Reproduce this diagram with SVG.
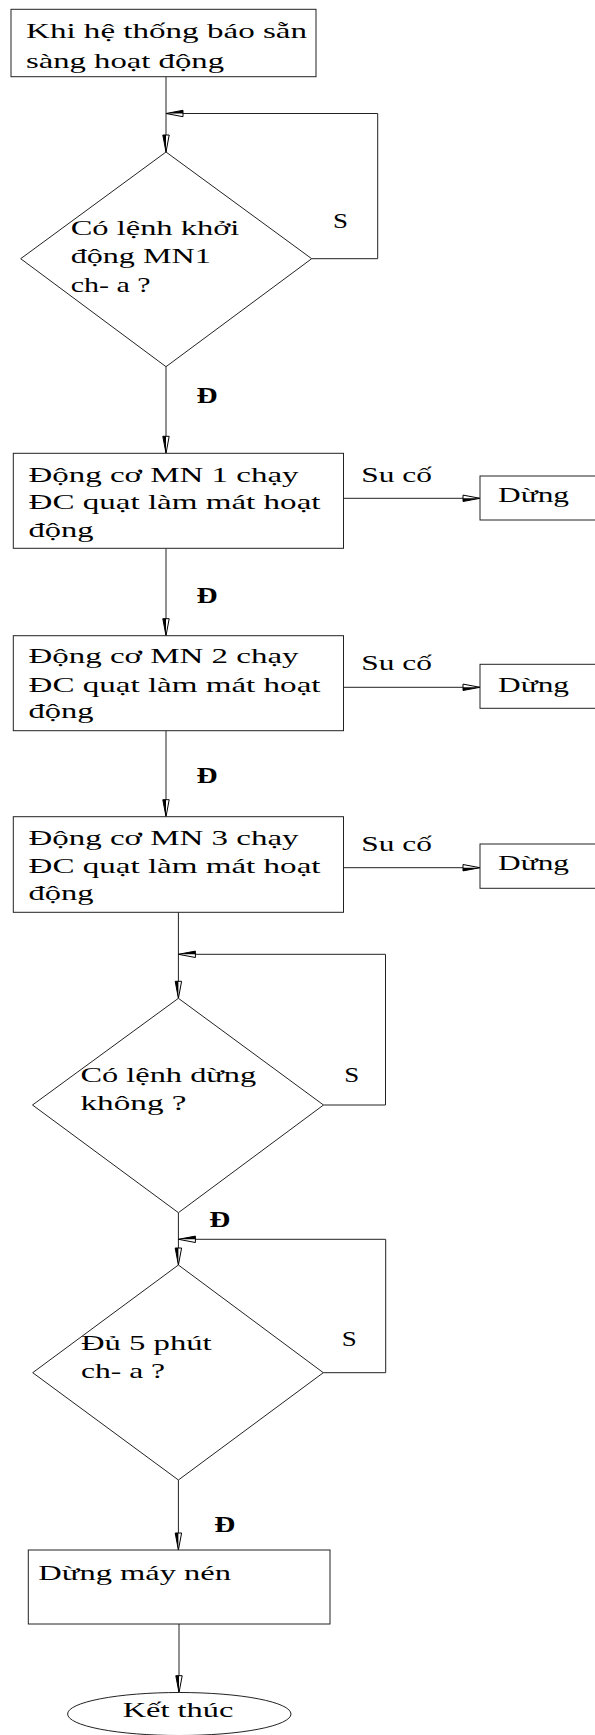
<svg xmlns="http://www.w3.org/2000/svg" width="595" height="1735" viewBox="0 0 595 1735">
  <defs>
    <style>
      .box { fill: #fff; stroke: #222; stroke-width: 1; }
      .ln { fill: none; stroke: #222; stroke-width: 1; }
      .t { font-family: "Liberation Serif", "Times New Roman", serif; font-size: 22px; fill: #000; }
      .lbl { font-family: "Liberation Serif", "Times New Roman", serif; font-size: 22px; fill: #000; }
      .b { font-weight: bold; font-size: 23px; }
    </style>
    <!-- slim two-tone arrowhead, tip at the path end -->
    <marker id="ah" markerUnits="userSpaceOnUse" markerWidth="22" markerHeight="10" viewBox="-19 -5 22 10" refX="0" refY="0" orient="auto" overflow="visible">
      <path d="M0,0 L-17,-3.2 L-17,3.2 Z" fill="#fff" stroke="#000" stroke-width="1"/>
      <path d="M0,0 L-17,3.2 L-17,0 Z" fill="#000"/>
    </marker>
  </defs>

  <!-- connectors -->
  <g id="connectors">
    <path class="ln" d="M166,77 V152" marker-end="url(#ah)"/>
    <path class="ln" d="M311.7,258.7 H377.7 V113.5 H166" marker-end="url(#ah)"/>
    <path class="ln" d="M166,366.7 V453.3" marker-end="url(#ah)"/>
    <path class="ln" d="M343.5,498.3 H480" marker-end="url(#ah)"/>
    <path class="ln" d="M166,548.3 V635.7" marker-end="url(#ah)"/>
    <path class="ln" d="M343.5,687.3 H480" marker-end="url(#ah)"/>
    <path class="ln" d="M166,730.7 V816.7" marker-end="url(#ah)"/>
    <path class="ln" d="M343.5,867.7 H480" marker-end="url(#ah)"/>
    <path class="ln" d="M178.4,912.3 V998.3" marker-end="url(#ah)"/>
    <path class="ln" d="M323.5,1105 H385.5 V954.3 H178.4" marker-end="url(#ah)"/>
    <path class="ln" d="M178.4,1212.7 V1265" marker-end="url(#ah)"/>
    <path class="ln" d="M323.3,1372.7 H385.7 V1239.3 H178.4" marker-end="url(#ah)"/>
    <path class="ln" d="M178.4,1480 V1550" marker-end="url(#ah)"/>
    <path class="ln" d="M179,1624 V1692.7" marker-end="url(#ah)"/>
  </g>

  <!-- branch labels -->
  <g id="labels">
    <text class="lbl" x="333" y="228.3" textLength="15" lengthAdjust="spacingAndGlyphs">S</text>
    <text class="lbl b" x="196.6" y="402.7" textLength="21" lengthAdjust="spacingAndGlyphs">Đ</text>
    <text class="lbl" x="361.3" y="481.7" textLength="70.6" lengthAdjust="spacingAndGlyphs">Su cố</text>
    <text class="lbl b" x="196.6" y="603.3" textLength="21" lengthAdjust="spacingAndGlyphs">Đ</text>
    <text class="lbl" x="361.3" y="670" textLength="70.6" lengthAdjust="spacingAndGlyphs">Su cố</text>
    <text class="lbl b" x="196.6" y="783.3" textLength="21" lengthAdjust="spacingAndGlyphs">Đ</text>
    <text class="lbl" x="361.3" y="850.7" textLength="70.6" lengthAdjust="spacingAndGlyphs">Su cố</text>
    <text class="lbl" x="344.2" y="1081.7" textLength="15" lengthAdjust="spacingAndGlyphs">S</text>
    <text class="lbl b" x="209.3" y="1226.7" textLength="21" lengthAdjust="spacingAndGlyphs">Đ</text>
    <text class="lbl" x="341.7" y="1346" textLength="15" lengthAdjust="spacingAndGlyphs">S</text>
    <text class="lbl b" x="214.3" y="1531.7" textLength="21" lengthAdjust="spacingAndGlyphs">Đ</text>
  </g>

  <g id="start">
    <rect class="box" x="11" y="9.3" width="305" height="67.4"/>
    <text class="t" x="26" y="38.3" textLength="281" lengthAdjust="spacingAndGlyphs">Khi hệ thống báo sẵn</text>
    <text class="t" x="26" y="68.3" textLength="198" lengthAdjust="spacingAndGlyphs">sàng hoạt động</text>
  </g>

  <g id="check-start">
    <polygon class="box" points="166,152 311.7,258.7 166,366.7 20.7,258.7"/>
    <text class="t" x="70.7" y="235" textLength="168.7" lengthAdjust="spacingAndGlyphs">Có lệnh khởi</text>
    <text class="t" x="70.7" y="263.3" textLength="140" lengthAdjust="spacingAndGlyphs">động MN1</text>
    <text class="t" x="70.7" y="291.7" textLength="80" lengthAdjust="spacingAndGlyphs">ch- a ?</text>
  </g>

  <g id="run-mn1">
    <rect class="box" x="13.3" y="453.3" width="330.2" height="95"/>
    <text class="t" x="28.5" y="481.7" textLength="270" lengthAdjust="spacingAndGlyphs">Động cơ MN 1 chạy</text>
    <text class="t" x="28.5" y="509.3" textLength="292" lengthAdjust="spacingAndGlyphs">ĐC quạt làm mát hoạt</text>
    <text class="t" x="28.5" y="536.7" textLength="65" lengthAdjust="spacingAndGlyphs">động</text>
  </g>
  <g id="stop-1">
    <rect class="box" x="480" y="476" width="130" height="44"/>
    <text class="t" x="498" y="501.7" textLength="71" lengthAdjust="spacingAndGlyphs">Dừng</text>
  </g>

  <g id="run-mn2">
    <rect class="box" x="13.3" y="635.7" width="330.2" height="95"/>
    <text class="t" x="28.5" y="663.3" textLength="270" lengthAdjust="spacingAndGlyphs">Động cơ MN 2 chạy</text>
    <text class="t" x="28.5" y="691.7" textLength="292" lengthAdjust="spacingAndGlyphs">ĐC quạt làm mát hoạt</text>
    <text class="t" x="28.5" y="718.3" textLength="65" lengthAdjust="spacingAndGlyphs">động</text>
  </g>
  <g id="stop-2">
    <rect class="box" x="480" y="664.3" width="130" height="44"/>
    <text class="t" x="498" y="691.7" textLength="71" lengthAdjust="spacingAndGlyphs">Dừng</text>
  </g>

  <g id="run-mn3">
    <rect class="box" x="13.3" y="816.7" width="330.2" height="95.6"/>
    <text class="t" x="28.5" y="845" textLength="270" lengthAdjust="spacingAndGlyphs">Động cơ MN 3 chạy</text>
    <text class="t" x="28.5" y="873.3" textLength="292" lengthAdjust="spacingAndGlyphs">ĐC quạt làm mát hoạt</text>
    <text class="t" x="28.5" y="900" textLength="65" lengthAdjust="spacingAndGlyphs">động</text>
  </g>
  <g id="stop-3">
    <rect class="box" x="480" y="844" width="130" height="44.3"/>
    <text class="t" x="498" y="870" textLength="71" lengthAdjust="spacingAndGlyphs">Dừng</text>
  </g>

  <g id="check-stop">
    <polygon class="box" points="178.4,998.3 323.5,1105 178.4,1212.7 32.5,1105"/>
    <text class="t" x="80.5" y="1081.7" textLength="175.7" lengthAdjust="spacingAndGlyphs">Có lệnh dừng</text>
    <text class="t" x="80.5" y="1110" textLength="106" lengthAdjust="spacingAndGlyphs">không ?</text>
  </g>

  <g id="check-timer">
    <polygon class="box" points="178.4,1265 323.3,1372.7 178.4,1480 32.7,1372.7"/>
    <text class="t" x="81" y="1350" textLength="130.7" lengthAdjust="spacingAndGlyphs">Đủ 5 phút</text>
    <text class="t" x="81" y="1378.3" textLength="84" lengthAdjust="spacingAndGlyphs">ch- a ?</text>
  </g>

  <g id="stop-compressor">
    <rect class="box" x="28.3" y="1550" width="301.7" height="74"/>
    <text class="t" x="38.3" y="1580" textLength="192.7" lengthAdjust="spacingAndGlyphs">Dừng máy nén</text>
  </g>

  <g id="end">
    <ellipse class="box" cx="179.3" cy="1714" rx="111.7" ry="21.5"/>
    <text class="t" x="122.7" y="1716.7" textLength="110.7" lengthAdjust="spacingAndGlyphs">Kết thúc</text>
  </g>
</svg>
